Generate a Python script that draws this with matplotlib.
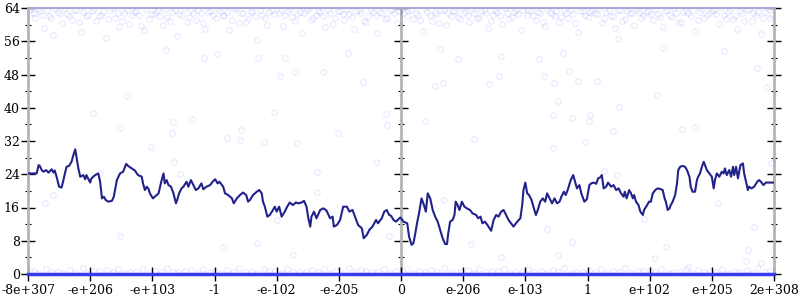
import matplotlib
matplotlib.use("Agg")
import matplotlib.pyplot as plt
from matplotlib.ticker import MultipleLocator

plt.rcParams['font.family'] = ['DejaVu Serif']
plt.rcParams['font.size'] = 9

# x positions are tick units: -6 .. 6 (0 in the middle)
tick_pos    = [-6, -5, -4, -3, -2, -1, 0, 1, 2, 3, 4, 5, 6]
tick_labels = ['-8e+307', '-e+206', '-e+103', '-1', '-e-102', '-e-205', '0',
               'e-206', 'e-103', '1', 'e+102', 'e+205', '2e+308']

# running average (dark line)
line_x = [-6.00, -5.86, -5.83, -5.81, -5.78, -5.75, -5.71, -5.67, -5.62, -5.59, -5.57, -5.54, -5.50, -5.46,
          -5.43, -5.40, -5.38, -5.34, -5.30, -5.27, -5.24, -5.22, -5.19, -5.16, -5.11, -5.08, -5.06, -5.00,
          -4.98, -4.92, -4.87, -4.84, -4.81, -4.78, -4.75, -4.71, -4.65, -4.62, -4.57, -4.52, -4.47, -4.42,
          -4.39, -4.33, -4.28, -4.25, -4.23, -4.17, -4.15, -4.12, -4.09, -4.06, -4.04, -3.99, -3.96, -3.90,
          -3.85, -3.82, -3.80, -3.77, -3.74, -3.70, -3.66, -3.62, -3.60, -3.57, -3.53, -3.50, -3.45, -3.42,
          -3.38, -3.34, -3.30, -3.26, -3.21, -3.18, -3.13, -3.07,
          -3.03, -2.99, -2.95, -2.92, -2.88, -2.86, -2.83, -2.78, -2.72, -2.69, -2.64, -2.59, -2.54, -2.49,
          -2.46, -2.43, -2.38, -2.32, -2.28, -2.24, -2.22, -2.19, -2.15, -2.11, -2.06, -2.03, -2.00, -1.96,
          -1.92, -1.87, -1.83, -1.79, -1.74, -1.69, -1.65, -1.60, -1.56, -1.52, -1.49, -1.46, -1.44, -1.40,
          -1.36, -1.30, -1.25, -1.20, -1.14, -1.10, -1.08, -1.03, -0.98, -0.93, -0.87, -0.83, -0.78, -0.74,
          -0.69, -0.63, -0.60, -0.55, -0.51, -0.46, -0.40, -0.37, -0.31, -0.27, -0.23, -0.19,
          -0.16, -0.12, -0.08, -0.04, -0.01, 0.04, 0.10, 0.13, 0.17, 0.20, 0.23, 0.26, 0.29, 0.33, 0.36,
          0.40, 0.43, 0.47, 0.51, 0.55, 0.59, 0.63, 0.67, 0.71, 0.74, 0.76, 0.79, 0.83, 0.86, 0.88, 0.91,
          0.94, 0.98, 1.02, 1.06, 1.11, 1.15, 1.21, 1.24, 1.28, 1.31, 1.35, 1.39, 1.45, 1.49, 1.53, 1.57,
          1.61, 1.65, 1.69, 1.73, 1.77, 1.81, 1.87, 1.92, 1.95, 1.97, 2.00, 2.03, 2.06, 2.10, 2.13, 2.17,
          2.20, 2.24, 2.28, 2.32, 2.35, 2.39, 2.43, 2.47, 2.51, 2.55, 2.58, 2.62, 2.65, 2.69, 2.73, 2.77,
          2.80, 2.83, 2.87, 2.90, 2.92, 2.95, 2.99, 3.03, 3.06,
          3.10, 3.14, 3.17, 3.21, 3.23, 3.26, 3.30, 3.33, 3.38, 3.42, 3.46, 3.50, 3.54, 3.58, 3.60, 3.63,
          3.67, 3.70, 3.73, 3.75, 3.78, 3.82, 3.85, 3.89, 3.91, 3.96, 3.99, 4.02, 4.05, 4.09, 4.13, 4.18,
          4.21, 4.24, 4.26, 4.29, 4.32, 4.34, 4.37, 4.41, 4.44, 4.46, 4.49, 4.53, 4.57, 4.60, 4.64, 4.66,
          4.69, 4.73, 4.76, 4.78, 4.81, 4.84, 4.87, 4.89, 4.92, 4.96, 5.00, 5.03, 5.05, 5.08, 5.12, 5.16,
          5.19, 5.21, 5.24, 5.28, 5.31, 5.34, 5.36, 5.39, 5.42, 5.46, 5.50, 5.52, 5.55, 5.58, 5.60, 5.64,
          5.68, 5.73, 5.76, 5.79, 5.83, 5.87, 5.92, 6.00]
line_y = [24.2, 24.2, 26.2, 26.0, 25.0, 24.6, 25.0, 24.4, 25.2, 24.4, 24.9, 23.4, 21.0, 20.8,
          22.6, 24.6, 25.8, 26.0, 27.0, 28.6, 30.0, 28.2, 25.4, 23.4, 23.8, 22.8, 23.8, 22.0,
          23.0, 23.8, 24.2, 22.2, 18.2, 18.6, 17.8, 17.4, 17.6, 18.6, 22.6, 24.2, 24.6, 26.5,
          26.0, 25.4, 24.9, 24.2, 23.8, 23.4, 21.8, 20.2, 21.0, 20.4, 19.4, 18.2, 18.6, 19.4,
          22.6, 24.2, 21.8, 22.6, 21.4, 21.0, 19.4, 17.0, 17.8, 19.4, 20.6, 21.0, 22.2, 21.0,
          22.6, 21.4, 20.2, 20.6, 21.8, 20.4, 21.0, 21.4,
          22.2, 22.8, 21.8, 22.2, 21.4, 21.0, 19.4, 19.0, 18.2, 17.0, 18.2, 19.0, 19.6, 19.0,
          17.4, 17.8, 19.0, 19.8, 20.2, 19.4, 17.4, 16.2, 13.8, 14.2, 15.4, 16.2, 15.0, 16.2,
          13.8, 15.0, 16.2, 17.2, 16.6, 17.2, 17.0, 17.2, 17.6, 16.2, 13.4, 11.4, 13.8, 15.0,
          13.4, 15.4, 15.8, 15.3, 13.4, 13.8, 11.4, 11.8, 13.0, 16.2, 16.2, 15.0, 15.4, 13.8,
          11.8, 11.0, 8.6, 9.4, 10.6, 11.4, 13.0, 12.2, 13.4, 15.0, 15.4, 14.2,
          14.0, 13.0, 12.6, 13.2, 13.6, 12.6, 12.2, 9.0, 7.0, 7.4, 9.8, 12.4, 14.6, 18.2, 17.0,
          15.0, 19.4, 18.2, 15.4, 13.8, 12.6, 10.6, 8.6, 7.2, 7.2, 9.8, 12.6, 13.0, 14.2, 17.4, 16.6,
          15.4, 17.4, 16.2, 15.8, 15.4, 14.6, 14.2, 13.4, 13.8, 12.2, 12.6, 11.8, 10.4, 13.0, 14.2, 13.8,
          15.0, 15.4, 14.2, 13.0, 12.2, 11.4, 12.6, 13.4, 16.6, 20.2, 22.0, 19.4, 19.0, 17.8, 16.2, 14.2,
          15.4, 17.4, 18.2, 17.4, 19.4, 18.2, 17.0, 18.2, 17.0, 17.4, 18.6, 19.8, 19.0, 20.6, 22.6, 23.8,
          22.2, 20.6, 21.4, 19.4, 18.6, 17.4, 18.0, 21.4, 21.8,
          22.0, 21.7, 23.0, 23.3, 23.8, 20.6, 21.0, 22.0, 21.0, 21.4, 20.2, 20.6, 19.4, 18.6, 19.8, 18.2,
          20.2, 19.4, 18.2, 19.0, 17.4, 16.6, 15.0, 14.2, 15.4, 16.6, 17.4, 17.4, 19.4, 20.2, 20.6, 20.4,
          20.2, 18.2, 17.4, 15.4, 15.8, 16.6, 17.4, 19.0, 21.8, 25.0, 25.8, 26.0, 25.8, 25.0, 23.4, 21.0,
          19.8, 19.8, 22.6, 23.4, 24.2, 25.8, 27.0, 26.2, 25.0, 24.2, 23.4, 20.6, 22.6, 24.2, 23.4, 24.6,
          24.2, 25.4, 23.8, 25.0, 23.4, 25.8, 23.8, 25.8, 23.0, 26.2, 26.6, 24.2, 22.2, 20.2, 21.0, 20.6,
          21.0, 22.2, 22.6, 22.2, 21.4, 22.0, 22.0, 22.0]

# individual samples near the top
top_x = [-5.95, -5.88, -5.80, -5.74, -5.66, -5.60, -5.52, -5.45, -5.38, -5.30, -5.22, -5.15, -5.07,
         -4.97, -4.90, -4.83, -4.75, -4.68, -4.60, -4.53, -4.45, -4.37, -4.30, -4.22, -4.14, -4.06,
         -3.98, -3.91, -3.83, -3.76, -3.68, -3.61, -3.53, -3.45, -3.38, -3.30, -3.22, -3.15, -3.07,
         -2.98, -2.91, -2.84, -2.76, -2.69, -2.61, -2.54, -2.46, -2.39, -2.31, -2.23, -2.16, -2.08,
         -1.97, -1.90, -1.82, -1.75, -1.67, -1.60, -1.52, -1.45, -1.37, -1.30, -1.22, -1.14, -1.06,
         -0.98, -0.91, -0.83, -0.76, -0.68, -0.60, -0.53, -0.45, -0.38, -0.30, -0.22, -0.15, -0.07,
         0.05, 0.12, 0.20, 0.27, 0.35, 0.42, 0.50, 0.57, 0.65, 0.72, 0.80, 0.87, 0.95,
         1.03, 1.10, 1.18, 1.25, 1.33, 1.40, 1.48, 1.55, 1.63, 1.70, 1.78, 1.85, 1.93,
         2.02, 2.09, 2.17, 2.24, 2.32, 2.39, 2.47, 2.54, 2.62, 2.69, 2.77, 2.84, 2.92,
         3.00, 3.08, 3.15, 3.23, 3.30, 3.38, 3.45, 3.53, 3.60, 3.68, 3.75, 3.83, 3.90,
         3.98, 4.06, 4.13, 4.21, 4.28, 4.36, 4.43, 4.51, 4.58, 4.66, 4.73, 4.81, 4.88,
         4.96, 5.04, 5.11, 5.19, 5.26, 5.34, 5.41, 5.49, 5.56, 5.64, 5.71, 5.79, 5.86, 5.94]
top_y = [62.8, 61.5, 63.3, 59.2, 62.1, 57.6, 63.0, 60.4, 62.6, 61.2, 63.5, 58.3, 62.0,
         63.2, 60.9, 62.4, 56.8, 63.6, 61.7, 59.5, 62.9, 60.2, 63.1, 62.2, 58.8, 61.4,
         62.5, 63.4, 59.9, 61.8, 63.0, 57.3, 62.3, 60.7, 63.5, 61.1, 62.7, 59.0, 63.2,
         61.6, 63.3, 62.0, 58.6, 63.7, 60.5, 62.8, 61.3, 63.1, 56.3, 62.4, 60.0, 63.4,
         62.9, 59.7, 63.2, 61.9, 62.5, 58.1, 63.6, 61.0, 62.2, 63.0, 59.4, 62.7, 61.5,
         63.3, 61.2, 62.6, 58.9, 63.5, 60.8, 62.1, 63.0, 57.9, 62.9, 61.6, 63.4, 60.3,
         62.7, 63.5, 61.3, 62.2, 58.4, 63.1, 60.9, 62.5, 63.6, 59.8, 62.0, 63.2, 61.4,
         63.0, 60.6, 62.8, 61.7, 63.4, 59.3, 62.3, 63.1, 60.1, 62.9, 61.8, 63.5, 58.7,
         62.4, 63.3, 61.1, 62.8, 59.6, 63.0, 62.1, 60.7, 63.6, 61.5, 62.6, 58.2, 63.2,
         61.9, 63.4, 62.5, 60.4, 63.1, 62.0, 59.1, 63.5, 61.4, 62.7, 60.0, 63.0, 62.2,
         63.3, 61.0, 62.6, 59.5, 63.6, 61.8, 62.9, 60.6, 63.2, 62.1, 58.5, 63.0, 61.6,
         62.8, 63.5, 60.2, 62.4, 63.1, 61.3, 59.0, 62.9, 63.4, 60.8, 62.3, 57.8, 63.0, 61.7]

top2_x = [-5.99, -5.91, -5.84, -5.77, -5.69, -5.63, -5.56, -5.48, -5.41, -5.34, -5.26, -5.18, -5.11, -5.03,
          -4.94, -4.86, -4.79, -4.71, -4.64, -4.56, -4.49, -4.41, -4.33, -4.26, -4.18, -4.10, -4.02,
          -3.94, -3.87, -3.79, -3.72, -3.64, -3.57, -3.49, -3.41, -3.34, -3.26, -3.19, -3.11, -3.03,
          -2.95, -2.87, -2.80, -2.72, -2.65, -2.57, -2.50, -2.42, -2.35, -2.27, -2.19, -2.12, -2.04,
          -1.93, -1.86, -1.78, -1.71, -1.63, -1.56, -1.48, -1.41, -1.33, -1.26, -1.18, -1.10, -1.02,
          -0.94, -0.87, -0.79, -0.72, -0.64, -0.57, -0.49, -0.41, -0.34, -0.26, -0.18, -0.11, -0.03,
          0.02, 0.09, 0.16, 0.24, 0.31, 0.39, 0.46, 0.54, 0.61, 0.69, 0.76, 0.84, 0.91, 0.99,
          1.07, 1.14, 1.22, 1.29, 1.37, 1.44, 1.52, 1.59, 1.67, 1.74, 1.82, 1.89, 1.97,
          2.05, 2.13, 2.20, 2.28, 2.35, 2.43, 2.50, 2.58, 2.65, 2.73, 2.80, 2.88, 2.96,
          3.04, 3.11, 3.19, 3.26, 3.34, 3.41, 3.49, 3.56, 3.64, 3.71, 3.79, 3.86, 3.94,
          4.02, 4.09, 4.17, 4.24, 4.32, 4.39, 4.47, 4.54, 4.62, 4.69, 4.77, 4.84, 4.92,
          5.00, 5.07, 5.15, 5.22, 5.30, 5.37, 5.45, 5.52, 5.60, 5.67, 5.75, 5.82, 5.90, 5.97]
top2_y = [63.6, 62.9, 63.8, 62.2, 63.4, 61.6, 63.7, 62.6, 63.9, 62.0, 63.5, 60.6, 63.1, 62.4,
          63.8, 62.1, 63.3, 61.4, 63.9, 62.7, 60.8, 63.6, 62.3, 63.2, 59.7, 63.7, 62.5,
          63.1, 62.0, 63.8, 60.9, 63.4, 62.6, 63.9, 61.8, 62.9, 63.5, 60.4, 63.0, 62.2,
          63.7, 62.4, 63.1, 61.2, 63.9, 62.8, 60.6, 63.3, 62.1, 63.6, 61.7, 63.0, 62.6,
          63.4, 62.2, 63.8, 60.9, 63.1, 62.7, 63.9, 61.5, 63.3, 62.0, 63.6, 60.2, 63.2,
          62.5, 63.7, 61.9, 63.2, 62.8, 60.7, 63.8, 62.3, 63.0, 61.4, 63.6, 62.9, 63.3,
          63.8, 62.0, 63.4, 62.7, 61.2, 63.9, 62.4, 63.1, 60.5, 63.6, 62.8, 63.3, 61.8, 63.7,
          62.3, 63.8, 61.6, 63.2, 62.9, 60.9, 63.5, 62.1, 63.9, 61.3, 63.0, 62.6, 63.4,
          63.6, 62.2, 63.1, 60.7, 63.8, 62.5, 63.3, 61.9, 62.8, 63.7, 60.3, 63.2, 62.4,
          63.0, 62.7, 63.9, 61.5, 63.4, 62.1, 63.6, 60.8, 63.2, 62.9, 63.8, 61.7, 63.1,
          62.6, 63.7, 61.8, 63.3, 62.2, 63.9, 60.4, 63.0, 62.7, 63.5, 61.2, 63.8, 62.3,
          63.2, 62.5, 63.9, 61.4, 63.6, 62.1, 63.3, 60.9, 63.7, 62.8, 63.1, 61.6, 63.8, 62.4]

# scattered samples in between
mid_x = [-4.95, -4.52, -4.41, -4.02, -3.67, -3.68, -3.36, -2.80, -2.59, -2.57, -2.04, -2.20, -1.67,
         -1.95, -1.87, -1.71, -1.25, -1.01, -0.61, -0.23, -0.24, -0.85, -2.30, -3.17, -2.96, -3.78,
         0.39, 0.54, 0.67, 0.63, 0.92, 1.18, 1.42, 1.58, 1.61, 2.22, 2.30, 2.44, 2.46, 2.52, 2.44,
         2.70, 2.75, 2.85, 2.96, 3.04, 3.02, 3.15, 3.41, 3.51, 3.49, 4.12, 4.21, 4.52, 4.73, 5.19,
         5.72, 5.89, 2.61,
         -3.65, -3.56, -5.60, -5.73, -4.52, -2.86, -2.32, -1.74, -1.35, -1.35, -1.99, -0.40, -0.55,
         -0.19, -4.84,
         0.69, 1.13, 1.61, 2.35, 2.75, 2.52, 3.47, 3.26, 3.91, 4.26, 4.09, 5.10, 5.58, 5.55, 5.79,
         4.62, 5.95, 5.68]
mid_y = [38.7, 35.1, 42.8, 30.6, 36.6, 33.9, 37.3, 32.7, 32.2, 34.6, 39.0, 31.8, 31.5,
         47.6, 52.0, 48.6, 48.6, 33.9, 46.2, 35.9, 38.5, 53.2, 52.0, 52.0, 52.9, 53.9,
         36.8, 45.2, 46.0, 54.1, 51.7, 32.5, 45.7, 47.6, 52.5, 51.7, 47.6, 38.3, 46.0, 41.6, 30.3,
         48.8, 37.5, 46.4, 31.8, 38.3, 36.8, 46.4, 34.4, 40.2, 56.5, 43.1, 54.4, 34.9, 35.4, 53.7,
         49.6, 44.9, 53.2,
         27.0, 24.1, 19.0, 17.1, 9.1, 6.5, 7.5, 4.6, 24.5, 19.7, 13.0, 27.0, 10.6,
         9.1, 24.3,
         17.8, 7.2, 4.1, 10.8, 7.7, 4.6, 23.8, 24.8, 13.2, 6.5, 3.8, 17.1, 5.8, 3.1, 2.6,
         1.7, 26.7, 11.3]

# samples just above zero
low_x = [-5.90, -5.71, -5.52, -5.33, -5.12, -4.94, -4.73, -4.55, -4.36, -4.15, -3.96, -3.77, -3.58,
         -3.37, -3.18, -2.99, -2.80, -2.61, -2.40, -2.21, -2.02, -1.83, -1.62, -1.43, -1.24, -1.05,
         -0.84, -0.65, -0.46, -0.27, -0.08, 0.10, 0.29, 0.48, 0.69, 0.88, 1.07, 1.26, 1.47, 1.66,
         1.85, 2.04, 2.25, 2.44, 2.63, 2.82, 3.03, 3.22, 3.41, 3.60, 3.81, 4.00, 4.19, 4.38, 4.59,
         4.78, 4.97, 5.16, 5.37, 5.56, 5.75, 5.94]
low_y = [0.8, 1.2, 0.6, 1.0, 1.4, 0.7, 0.9, 1.3, 0.5, 1.1, 0.8, 1.5, 0.6,
         1.0, 1.2, 0.7, 0.9, 1.4, 0.6, 1.1, 0.8, 1.3, 0.5, 1.0, 1.2, 0.7,
         1.5, 0.9, 0.6, 1.1, 0.8, 1.3, 0.7, 1.0, 1.4, 0.6, 0.9, 1.2, 0.8, 1.1,
         0.5, 1.3, 0.7, 1.0, 1.4, 0.6, 0.9, 1.2, 0.8, 1.5, 0.7, 1.0, 1.1, 0.6, 1.3,
         0.9, 0.8, 1.2, 0.5, 1.0, 1.4, 0.7]

low2_x = [-5.96, -5.84, -5.62, -5.44, -5.25, -5.03, -4.84, -4.64, -4.46, -4.26, -4.05, -3.86, -3.67,
          -3.47, -3.27, -3.08, -2.89, -2.70, -2.50, -2.31, -2.12, -1.92, -1.73, -1.53, -1.34, -1.14,
          -0.95, -0.75, -0.56, -0.37, -0.17, 0.03, 0.20, 0.39, 0.58, 0.78, 0.97, 1.17, 1.36, 1.56,
          1.75, 1.95, 2.14, 2.34, 2.53, 2.73, 2.92, 3.12, 3.31, 3.51, 3.70, 3.90, 4.09, 4.29, 4.48,
          4.68, 4.87, 5.07, 5.26, 5.46, 5.65, 5.85]
low2_y = [0.4, 0.2, 0.6, 0.3, 0.5, 0.2, 0.7, 0.4, 0.3, 0.6, 0.2, 0.5, 0.4,
          0.8, 0.3, 0.5, 0.2, 0.6, 0.4, 0.3, 0.7, 0.2, 0.5, 0.4, 0.6, 0.3,
          0.2, 0.5, 0.7, 0.4, 0.3, 0.6, 0.2, 0.5, 0.4, 0.3, 0.6, 0.2, 0.5, 0.7,
          0.3, 0.4, 0.6, 0.2, 0.5, 0.3, 0.4, 0.6, 0.2, 0.5, 0.3, 0.7, 0.4, 0.2, 0.6,
          0.3, 0.5, 0.4, 0.2, 0.6, 0.3, 0.5]

fig = plt.figure(figsize=(8, 3), dpi=100)
ax = fig.add_axes([28/800, 26/300, 746/800, 266/300])

pt_style = dict(linestyle='none', marker='o', markersize=4.0, markerfacecolor='none',
                markeredgecolor='#0000ff', markeredgewidth=0.8, alpha=0.09)
ax.plot(top_x, top_y, **pt_style)
ax.plot(top2_x, top2_y, **pt_style)
ax.plot(mid_x, mid_y, **pt_style)
ax.plot(low_x, low_y, **pt_style)
ax.plot(low2_x, low2_y, **pt_style)

ax.plot(line_x, line_y, color='#22228c', lw=1.5, zorder=5)

ax.set_xlim(-6, 6)
ax.set_ylim(0, 64)
ax.set_xticks(tick_pos)
ax.set_xticklabels(tick_labels)
ax.yaxis.set_major_locator(MultipleLocator(8))
ax.yaxis.set_minor_locator(MultipleLocator(4))

for side in ['left', 'right']:
    ax.spines[side].set_color('#b4b4b4')
    ax.spines[side].set_linewidth(2)
ax.spines['bottom'].set_color('#3a3af0')
ax.spines['bottom'].set_linewidth(2.5)
ax.spines['top'].set_color('#a8a8d8')
ax.spines['top'].set_linewidth(1.5)

ax.tick_params(axis='y', which='major', direction='inout', length=10, width=1,
               right=True, labelright=False, pad=1)
ax.tick_params(axis='y', which='minor', direction='inout', length=5, width=0.8, right=True)
ax.tick_params(axis='x', which='major', direction='inout', length=10, width=1, top=False, pad=2)

# middle axis at x = 0
mid_ax = ax.secondary_yaxis(0.5)
mid_ax.yaxis.set_major_locator(MultipleLocator(8))
mid_ax.yaxis.set_minor_locator(MultipleLocator(4))
mid_ax.tick_params(which='major', direction='inout', length=10, width=1, labelright=False, labelleft=False)
mid_ax.tick_params(which='minor', direction='inout', length=5, width=0.8)
for s in mid_ax.spines.values():
    s.set_color('#b4b4b4')
    s.set_linewidth(2)

fig.savefig('out.png', dpi=100)
